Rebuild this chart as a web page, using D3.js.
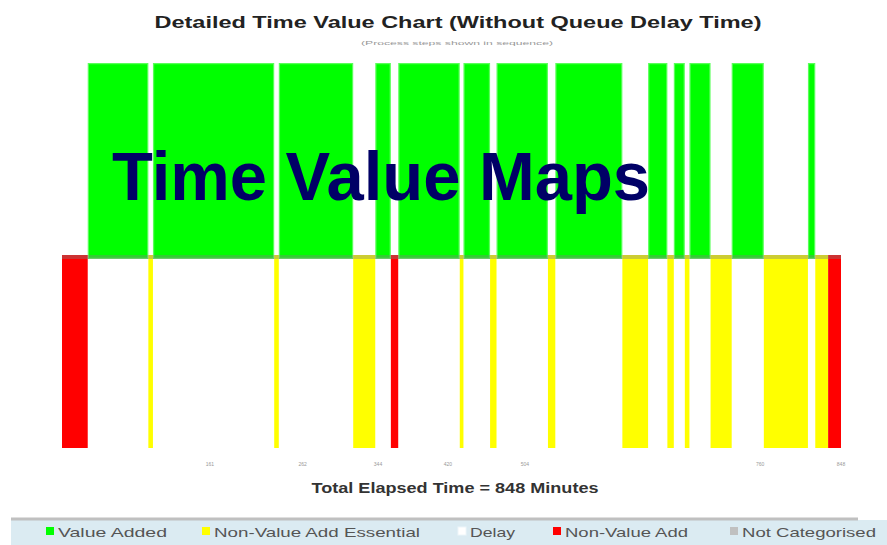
<!DOCTYPE html>
<html>
<head>
<meta charset="utf-8">
<script src="https://cdn.jsdelivr.net/npm/d3@7"></script>
<style>
  html, body { margin: 0; padding: 0; background: #ffffff; }
  svg { display: block; }
</style>
</head>
<body>
<svg id="chart" width="887" height="545"></svg>
<script>
// ---------------- DATA ----------------
const categories = ["Value Added", "Non-Value Add Essential", "Delay", "Non-Value Add", "Not Categorised"];
const categoryColors = ["#00ff00", "#ffff00", "#ffffff", "#ff0000", "#c0c0c0"];

// sequence of process steps (category index) and their durations in minutes
const segmentCategory = [3, 0, 1, 0, 1, 0, 1, 0, 3, 0, 1, 0, 1, 0, 1, 0, 1, 0, 1, 0, 1, 0, 1, 0, 1, 0, 1, 3];
const segmentMinutes  = [28, 66, 5, 132, 5, 81, 24, 17, 8, 67, 4, 29, 7, 56, 8, 73, 28, 21, 7, 12, 5, 23, 23, 35, 48, 8, 14, 14];

const tickMinutes = [161, 262, 344, 420, 504, 760, 848];

const chartTitle = "Detailed Time Value Chart (Without Queue Delay Time)";
const chartSubtitle = "(Process steps shown in sequence)";
const overlayTitle = "Time Value Maps";
const totalMinutes = d3.sum(segmentMinutes);
const xTitle = "Total Elapsed Time = " + totalMinutes + " Minutes";

// ---------------- BUILD ----------------
const svg = d3.select("#chart");
const font = "Arial, 'Liberation Sans', sans-serif";

let acc = 0;
const segments = segmentMinutes.map((m, i) => {
  const s = { start: acc, end: acc + m, cat: segmentCategory[i] };
  acc += m;
  return s;
});

const x = d3.scaleLinear().domain([0, totalMinutes]).range([62, 841]);
const y = d3.scaleLinear().domain([-1, 1]).range([448, 63]);

// value-added bars above the baseline
svg.append("g").selectAll("rect")
  .data(segments.filter(d => d.cat === 0))
  .join("rect")
  .attr("x", d => x(d.start))
  .attr("width", d => x(d.end) - x(d.start))
  .attr("y", y(1))
  .attr("height", y(0) + 3.5 - y(1))
  .attr("fill", d => categoryColors[d.cat])
  .attr("stroke", "rgba(255,255,255,0.35)")
  .attr("stroke-width", 2.5);

// non value added bars below the baseline
svg.append("g").selectAll("rect")
  .data(segments.filter(d => d.cat === 1 || d.cat === 3))
  .join("rect")
  .attr("x", d => x(d.start))
  .attr("width", d => x(d.end) - x(d.start))
  .attr("y", y(0) - 0.5)
  .attr("height", y(-1) - y(0) + 0.5)
  .attr("fill", d => categoryColors[d.cat]);

// baseline band
svg.append("rect")
  .attr("x", x(0))
  .attr("width", x(totalMinutes) - x(0))
  .attr("y", y(0) - 0.5)
  .attr("height", 4)
  .attr("fill", "#808080")
  .attr("fill-opacity", 0.4);

// titles
svg.append("text")
  .attr("x", 458).attr("y", 28)
  .attr("text-anchor", "middle")
  .attr("font-family", font).attr("font-weight", "bold").attr("font-size", 17)
  .attr("fill", "#222")
  .attr("textLength", 607).attr("lengthAdjust", "spacingAndGlyphs")
  .text(chartTitle);

svg.append("text")
  .attr("x", 457).attr("y", 45)
  .attr("text-anchor", "middle")
  .attr("font-family", font).attr("font-size", 6)
  .attr("fill", "#999")
  .attr("textLength", 192).attr("lengthAdjust", "spacingAndGlyphs")
  .text(chartSubtitle);

// tick labels (tiny)
svg.append("g").selectAll("text")
  .data(tickMinutes)
  .join("text")
  .attr("x", d => x(d))
  .attr("y", 466)
  .attr("text-anchor", "middle")
  .attr("font-family", font).attr("font-size", 5)
  .attr("fill", "#999")
  .text(d => d);

// x title
svg.append("text")
  .attr("x", 455).attr("y", 493)
  .attr("text-anchor", "middle")
  .attr("font-family", font).attr("font-weight", "bold").attr("font-size", 15)
  .attr("fill", "#333")
  .attr("textLength", 287).attr("lengthAdjust", "spacingAndGlyphs")
  .text(xTitle);

// overlay title
svg.append("text")
  .attr("x", 112).attr("y", 200)
  .attr("font-family", font).attr("font-weight", "bold").attr("font-size", 68)
  .attr("fill", "#000066")
  .attr("textLength", 538).attr("lengthAdjust", "spacingAndGlyphs")
  .text(overlayTitle);

// legend
svg.append("rect").attr("x", 11).attr("y", 520).attr("width", 876).attr("height", 25).attr("fill", "#dbebf2");
svg.append("rect").attr("x", 11).attr("y", 517.5).attr("width", 847).attr("height", 3).attr("fill", "#c0c0c0");

const legendSquareX = [46, 202, 458, 553, 730];
const legendTextLen = [109, 206, 45, 123, 134];
const lg = svg.append("g").selectAll("g")
  .data(categories)
  .join("g");
lg.append("rect")
  .attr("x", (d, i) => legendSquareX[i])
  .attr("y", 527)
  .attr("width", 8).attr("height", 8)
  .attr("fill", (d, i) => categoryColors[i])
  .attr("stroke", (d, i) => i === 2 ? "#eef6f9" : "none");
lg.append("text")
  .attr("x", (d, i) => legendSquareX[i] + 12)
  .attr("y", 537)
  .attr("font-family", font).attr("font-size", 13)
  .attr("fill", "#555")
  .attr("textLength", (d, i) => legendTextLen[i]).attr("lengthAdjust", "spacingAndGlyphs")
  .text(d => d);
</script>
</body>
</html>
